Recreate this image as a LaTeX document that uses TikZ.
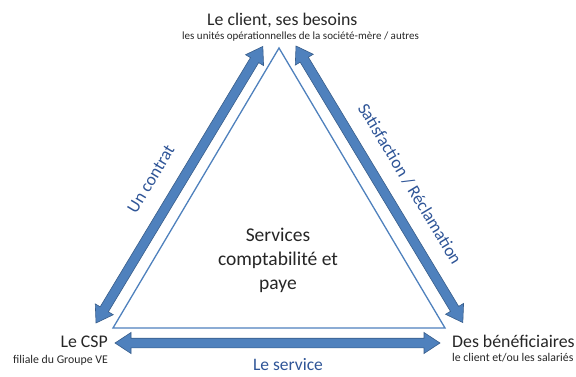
\documentclass[tikz,border=0pt]{standalone}
\usepackage{fontspec}
\setmainfont{Carlito}
\definecolor{arrowfill}{RGB}{79,129,189}
\definecolor{arrowline}{RGB}{56,93,138}
\definecolor{tri}{RGB}{79,129,189}
\definecolor{lbl}{RGB}{47,85,151}
\tikzset{
  arrowbody/.style={draw=arrowline, line width=0.6pt, fill=arrowfill, line join=miter},
  pics/blockarr/.style={code={
    \draw[arrowbody] (0,0) -- (16,10.5) -- (16,4.8) -- (#1-16,4.8) -- (#1-16,10.5) -- (#1,0)
      -- (#1-16,-10.5) -- (#1-16,-4.8) -- (16,-4.8) -- (16,-10.5) -- cycle;
  }},
  titletext/.style={font=\fontsize{17.8}{20}\selectfont, inner sep=0pt, text=black!85},
  subtext/.style={font=\fontsize{11}{13}\selectfont, inner sep=0pt, text=black!85},
  subtextb/.style={font=\fontsize{11.8}{13}\selectfont, inner sep=0pt, text=black!85},
  edgelabel/.style={font=\fontsize{17.5}{20}\selectfont, inner sep=0pt, text=lbl},
  centertext/.style={font=\fontsize{19.5}{24}\selectfont, align=center, inner sep=0pt, text=black!85},
}
\begin{document}
\begin{tikzpicture}[x=1pt,y=1pt]
\useasboundingbox (0,0) rectangle (576,376);
% triangle
\coordinate (tA) at (279,328);
\coordinate (tL) at (113,48);
\coordinate (tR) at (445,48);
\draw[tri, line width=1.3pt, fill=white, line join=miter] (tA) -- (tL) -- (tR) -- cycle;
% block arrow end points
\coordinate (laS) at (96,53);
\coordinate (raS) at (296,330);
\coordinate (baS) at (115,33);
\pic[rotate=58.9] (la) at (laS) {blockarr=323};
\pic[rotate=-58.9] (ra) at (raS) {blockarr=323};
\pic (ba) at (baS) {blockarr=325};
% corner texts
\node[titletext, anchor=base west] (client) at (207,351) {Le client, ses besoins};
\node[subtext, anchor=base west] (clientsub) at (182,337) {les unités opérationnelles de la société-mère / autres};
\node[titletext, anchor=base east] (csp) at (108,29) {Le CSP};
\node[subtextb, anchor=base east] (cspsub) at (108,13) {filiale du Groupe VE};
\node[titletext, anchor=base west] (benef) at (452,29) {Des bénéficiaires};
\node[subtextb, anchor=base west] (benefsub) at (452,15) {le client et/ou les salariés};
% center
\node[centertext] (center) at (278,116) {Services\\comptabilité et\\paye};
% edge labels
\node[edgelabel, rotate=58.9] (contrat) at (151,197) {Un contrat};
\node[edgelabel, rotate=-58.9] (satis) at (410,192) {Satisfaction / Réclamation};
\node[edgelabel, anchor=base] (service) at (288,6) {Le service};
\end{tikzpicture}
\end{document}
